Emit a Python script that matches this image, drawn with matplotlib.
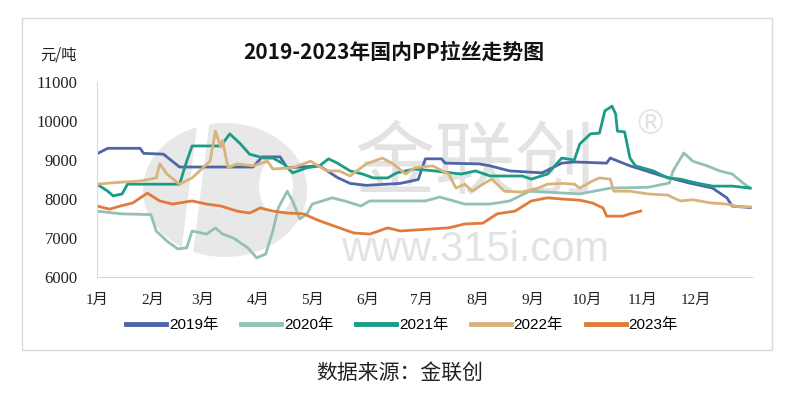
import matplotlib
matplotlib.use("Agg")
import matplotlib.pyplot as plt
from matplotlib.patches import Rectangle, Ellipse, Polygon

plt.rcParams['font.family'] = ['Noto Sans CJK SC', 'DejaVu Sans']

# === data (day of year, price 元/吨) ===
d2019 = [0, 6, 24, 26, 37, 46, 87, 92, 102, 106, 124, 134, 141, 150, 169, 179, 183, 192, 194,
         213, 219, 230, 248, 259, 266, 284, 286, 297, 315, 330, 343, 351, 354, 364]
v2019 = [9160, 9300, 9300, 9170, 9150, 8820, 8820, 9080, 9080, 8800, 8850, 8550, 8400, 8350,
         8400, 8500, 9030, 9030, 8920, 8900, 8850, 8720, 8670, 8920, 8950, 8920, 9050, 8850,
         8590, 8410, 8280, 8030, 7820, 7780]

d2020 = [0, 13, 30, 33, 39, 45, 50, 53, 61, 66, 70, 76, 84, 89, 94, 98, 101, 106, 109, 113,
         117, 120, 131, 138, 147, 152, 183, 191, 205, 219, 230, 241, 269, 286, 307, 319, 321,
         327, 332, 340, 347, 354, 360, 364]
v2020 = [7690, 7620, 7600, 7180, 6920, 6720, 6750, 7180, 7100, 7260, 7100, 7000, 6750, 6490,
         6590, 7180, 7770, 8200, 7950, 7490, 7620, 7870, 8030, 7950, 7820, 7950, 7950, 8050,
         7870, 7870, 7950, 8200, 8130, 8280, 8300, 8410, 8720, 9180, 8970, 8850, 8720, 8640,
         8410, 8280]

d2021 = [0, 6, 9, 14, 17, 30, 46, 50, 53, 63, 69, 74, 80, 85, 93, 98, 104, 109, 117, 124, 129,
         134, 141, 148, 154, 162, 167, 177, 188, 203, 211, 219, 237, 242, 251, 259, 266, 269,
         275, 280, 283, 287, 289, 290, 294, 297, 300, 310, 318, 325, 334, 343, 354, 364]
v2021 = [8380, 8200, 8080, 8130, 8380, 8380, 8380, 8970, 9360, 9360, 9360, 9670, 9410, 9150,
         9050, 9050, 8900, 8670, 8800, 8850, 9030, 8920, 8720, 8640, 8540, 8540, 8670, 8770,
         8720, 8640, 8720, 8590, 8590, 8510, 8640, 9050, 9000, 9410, 9670, 9690, 10260, 10380,
         10180, 9740, 9720, 9050, 8850, 8720, 8540, 8510, 8410, 8330, 8330, 8280]

d2022 = [0, 13, 24, 33, 35, 39, 46, 53, 59, 63, 66, 69, 70, 73, 78, 87, 95, 98, 109, 119, 128,
         135, 141, 150, 159, 165, 172, 177, 187, 196, 200, 205, 209, 215, 220, 227, 237, 246,
         251, 259, 266, 269, 276, 280, 286, 288, 297, 307, 318, 325, 332, 342, 351, 358, 364]
v2022 = [8380, 8430, 8460, 8540, 8900, 8640, 8380, 8540, 8800, 8970, 9740, 9330, 9500, 8800,
         8900, 8850, 8970, 8770, 8800, 8970, 8720, 8720, 8590, 8900, 9050, 8900, 8640, 8800,
         8850, 8640, 8280, 8380, 8200, 8380, 8510, 8200, 8180, 8280, 8380, 8400, 8380, 8280,
         8460, 8540, 8510, 8200, 8200, 8130, 8100, 7950, 7980, 7900, 7870, 7800, 7800]

d2023 = [0, 7, 13, 20, 28, 35, 42, 53, 61, 69, 78, 85, 91, 98, 106, 115, 124, 135, 143, 152,
         162, 169, 196, 205, 215, 223, 233, 242, 251, 259, 269, 276, 282, 284, 293, 297, 303]
v2023 = [7820, 7740, 7820, 7900, 8150, 7950, 7870, 7950, 7870, 7820, 7690, 7640, 7770, 7690,
         7640, 7620, 7440, 7260, 7130, 7100, 7260, 7180, 7260, 7360, 7380, 7620, 7690, 7950,
         8030, 8000, 7970, 7900, 7770, 7560, 7560, 7620, 7690]

month_starts = [0, 31, 59, 90, 120, 151, 181, 212, 243, 273, 304, 334]
month_labels = ['1月', '2月', '3月', '4月', '5月', '6月', '7月', '8月', '9月', '10月', '11月', '12月']

series = [
    ('2019年', d2019, v2019, '#4f65a8'),
    ('2020年', d2020, v2020, '#93c1b4'),
    ('2021年', d2021, v2021, '#1b9c87'),
    ('2022年', d2022, v2022, '#d8b47c'),
    ('2023年', d2023, v2023, '#e07b3b'),
]

fig = plt.figure(figsize=(7.98, 3.94), dpi=100)
fig.patch.set_facecolor('white')

# outer frame of the chart
fig.patches.append(Rectangle((22 / 798, 1 - 350 / 394), 750 / 798, 332 / 394,
                             transform=fig.transFigure, fill=False,
                             edgecolor='#d9d9d9', linewidth=1.0))

ax = fig.add_axes([97 / 798, 1 - 277 / 394, 655 / 798, 195 / 394])


def px(x, y):
    # pixel position in the picture -> axes fraction
    return ((x - 97) / 655, (277 - y) / 195)


# watermark logo + text
ax.add_patch(Ellipse(px(225, 190), 164 / 655, 134 / 195, transform=ax.transAxes,
                     facecolor='#e8e8e8', edgecolor='none', zorder=0))
ax.add_patch(Polygon([px(198, 118), px(210, 118), px(192, 262), px(180, 262)],
                     transform=ax.transAxes, facecolor='white', edgecolor='none', zorder=0))
ax.add_patch(Ellipse(px(276, 186), 34 / 655, 56 / 195, transform=ax.transAxes,
                     facecolor='white', edgecolor='none', zorder=0))
ax.text(0.578, 0.575, '金联创', transform=ax.transAxes, ha='center', va='center',
        fontsize=58, color='#e3e3e3', zorder=0)
ax.text(0.845, 0.78, '®', transform=ax.transAxes, ha='center', va='center',
        family='DejaVu Sans', fontsize=24, color='#e3e3e3', zorder=0)
ax.text(0.577, 0.14, 'www.315i.com', transform=ax.transAxes, ha='center', va='center',
        family='Liberation Sans', fontsize=30, color='#e3e3e3', zorder=0)

for name, d, v, c in series:
    ax.plot(d, v, color=c, linewidth=2.0, label=name, zorder=2)

ax.set_xlim(0, 365)
ax.set_ylim(6000, 11000)
ax.set_yticks(range(6000, 11001, 1000))
ax.set_xticks(month_starts)
ax.set_xticklabels(month_labels, family=['Liberation Serif', 'Noto Sans CJK SC'], fontsize=11)
for t in ax.get_yticklabels():
    t.set_family('Liberation Serif')
    t.set_fontsize(12)
ax.tick_params(axis='both', length=0, colors='#222222')
ax.tick_params(axis='y', pad=14)
ax.tick_params(axis='x', pad=12)

for s in ['top', 'right']:
    ax.spines[s].set_visible(False)
ax.spines['left'].set_color('#d9d9d9')
ax.spines['bottom'].set_color('#d9d9d9')

fig.text(0.493, 1 - 52 / 394, '2019-2023年国内PP拉丝走势图', ha='center', va='center',
         fontsize=15, fontweight='bold', color='#111111')
fig.text(40 / 798, 1 - 55 / 394, '元/吨', ha='left', va='center', fontsize=11, color='#222222')

leg = fig.legend(loc='center', bbox_to_anchor=(402 / 798, 1 - 325 / 394), ncol=5,
                 frameon=False, handlelength=2.6, handletextpad=0.2, columnspacing=1.5,
                 prop={'family': ['Liberation Sans', 'Noto Sans CJK SC'], 'size': 11})
for line in leg.get_lines():
    line.set_linewidth(3.5)

fig.text(400 / 798, 1 - 373 / 394, '数据来源：金联创', ha='center', va='center',
         fontsize=15, color='#222222')

fig.savefig('out.png', dpi=100)
